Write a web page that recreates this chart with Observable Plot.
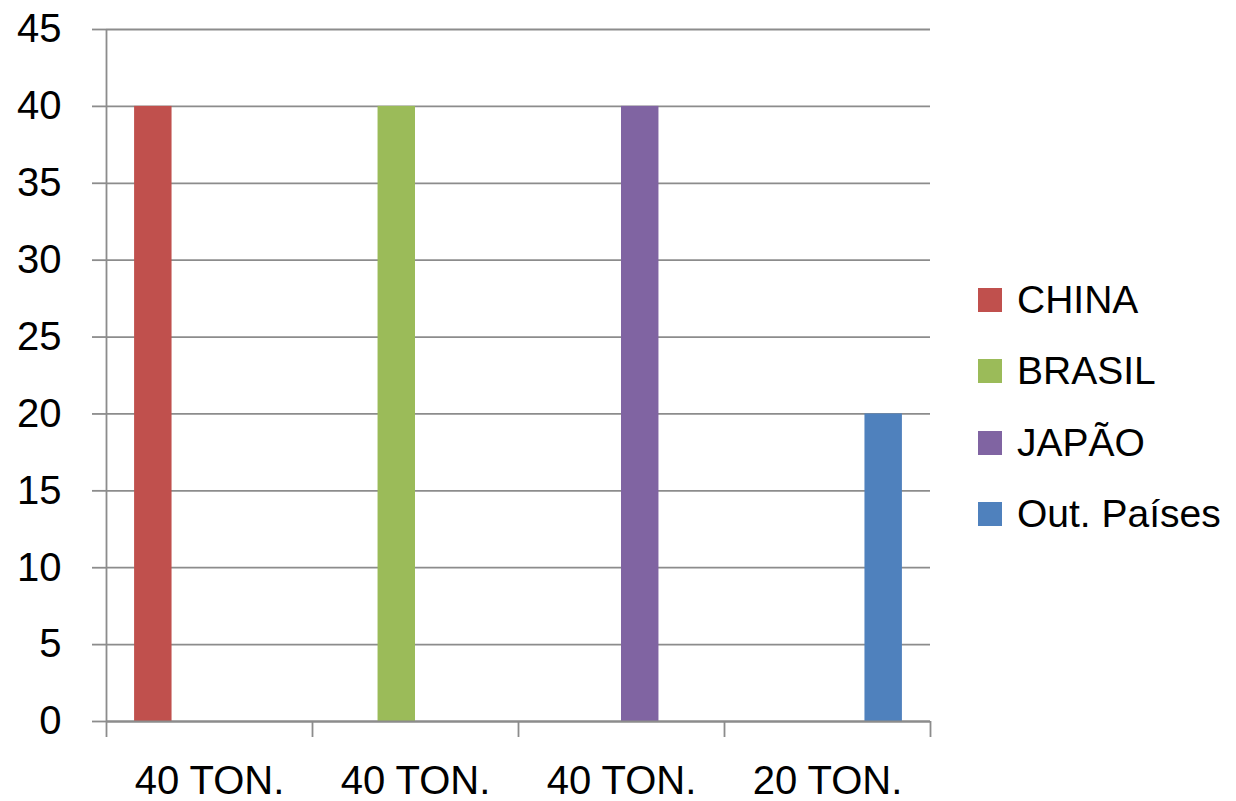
<!DOCTYPE html>
<html>
<head>
<meta charset="utf-8">
<script src="https://cdn.jsdelivr.net/npm/d3@7"></script>
<script src="https://cdn.jsdelivr.net/npm/@observablehq/plot@0.6"></script>
<style>
  html, body { margin: 0; padding: 0; background: #fff; }
  #wrap { position: relative; width: 1236px; height: 801px; font-family: "Liberation Sans", Arial, sans-serif; }
  #legend { position: absolute; left: 978px; top: 264px; }
  .item { display: flex; align-items: center; height: 71.5px; font-size: 39px; color: #000; white-space: nowrap; }
  .sw { width: 24px; height: 24px; margin-right: 15px; flex: none; }
</style>
</head>
<body>
<div id="wrap"><div id="legend"></div></div>
<script>
// ---- data ----
const categories = ["40 TON.", "40 TON.", "40 TON.", "20 TON."];
const seriesNames = ["CHINA", "BRASIL", "JAPÃO", "Out. Países"];
const seriesColors = ["#c0504d", "#9bbb59", "#8064a2", "#4f81bd"];
const chinaValues  = [40, 0, 0, 0];
const brasilValues = [0, 40, 0, 0];
const japaoValues  = [0, 0, 40, 0];
const outrosValues = [0, 0, 0, 20];
const yTicks = [0, 5, 10, 15, 20, 25, 30, 35, 40, 45];

// ---- table built from the arrays ----
const seriesValues = [chinaValues, brasilValues, japaoValues, outrosValues];
const rows = [];
categories.forEach((c, ci) => {
  seriesNames.forEach((s, si) => {
    rows.push({cat: ci, label: c, series: s, si, value: seriesValues[si][ci]});
  });
});

// Excel-like clustered layout: gap width 150%
const gapWidth = 1.5;
const barFrac = 1 / (seriesNames.length + gapWidth);
const x1 = d => d.cat + (gapWidth / 2) * barFrac + d.si * barFrac;
const x2 = d => x1(d) + barFrac;

const gridColor = "#8c8c8c";

const chart = Plot.plot({
  width: 1236,
  height: 801,
  marginLeft: 106,
  marginRight: 306,
  marginTop: 29,
  marginBottom: 80,
  style: {fontFamily: "'Liberation Sans', Arial, sans-serif", fontSize: "40px", color: "#000", background: "#fff"},
  x: {domain: [0, categories.length]},
  y: {domain: [0, 45]},
  color: {domain: seriesNames, range: seriesColors},
  marks: [
    Plot.gridY(yTicks, {stroke: gridColor, strokeOpacity: 1, strokeWidth: 1.8}),
    Plot.rectY(rows.filter(d => d.value > 0), {x1, x2, y1: 0, y2: "value", fill: "series"}),
    Plot.ruleX([0], {y1: 0, y2: 45, stroke: gridColor, strokeWidth: 1.8}),
    Plot.ruleY([0], {stroke: gridColor, strokeWidth: 1.8}),
    Plot.axisY({ticks: yTicks, tickSize: 14, tickPadding: 31, stroke: gridColor, strokeWidth: 1.8, fill: "#000", fontSize: 40, label: null}),
    Plot.axisX({ticks: d3.range(categories.length + 1), tickSize: 16, tickFormat: () => "", stroke: gridColor, strokeWidth: 1.8, label: null}),
    Plot.axisX({ticks: categories.map((c, i) => i + 0.5), tickSize: 0, tickPadding: 44, tickFormat: v => categories[Math.floor(v)], fill: "#000", fontSize: 40, label: null})
  ]
});
document.getElementById("wrap").prepend(chart);

const legend = document.getElementById("legend");
seriesNames.forEach((s, i) => {
  const it = document.createElement("div");
  it.className = "item";
  const sw = document.createElement("span");
  sw.className = "sw";
  sw.style.background = seriesColors[i];
  it.appendChild(sw);
  it.appendChild(document.createTextNode(s));
  legend.appendChild(it);
});
</script>
</body>
</html>
